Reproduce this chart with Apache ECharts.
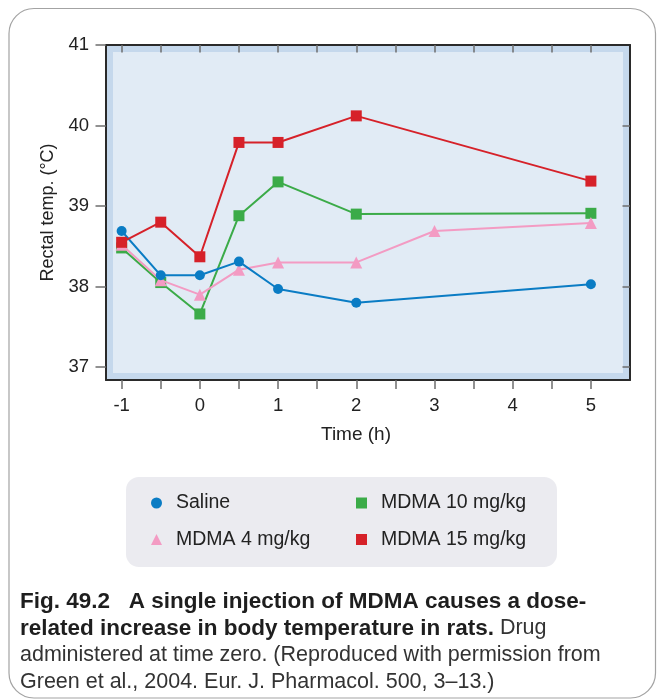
<!DOCTYPE html>
<html><head><meta charset="utf-8">
<script src="https://cdn.jsdelivr.net/npm/echarts@6/dist/echarts.min.js"></script>
<style>html,body{margin:0;padding:0;background:#fff}#c{width:657px;height:700px}</style>
</head><body><div id="c"></div>
<script>
// ---- data ----
const timesMain = [-1, -0.5, 0, 0.5, 1, 2, 5];
const times4mg = [-1, -0.5, 0, 0.5, 1, 2, 3, 5];
const saline = [38.69, 38.14, 38.14, 38.31, 37.97, 37.80, 38.03];
const mdma4 = [38.52, 38.08, 37.90, 38.21, 38.30, 38.30, 38.69, 38.79];
const mdma10 = [38.48, 38.05, 37.66, 38.88, 39.30, 38.90, 38.91];
const mdma15 = [38.55, 38.80, 38.37, 39.79, 39.79, 40.12, 39.31];
const xTickValues = [-1, -0.5, 0, 0.5, 1, 1.5, 2, 2.5, 3, 3.5, 4, 4.5, 5];
const xLabelValues = [-1, 0, 1, 2, 3, 4, 5];
const yTickValues = [37, 38, 39, 40, 41];
const yRightTickValues = [37, 38, 39, 40];
const seriesNames = ['Saline', 'MDMA 4 mg/kg', 'MDMA 10 mg/kg', 'MDMA 15 mg/kg'];

const FONT = '"Liberation Sans", Arial, Helvetica, sans-serif';
const pair = (xs, ys) => xs.map((x, i) => [x, ys[i]]);

const chart = echarts.init(document.getElementById('c'), null, {renderer: 'canvas'});
const xMin = -1.2, xMax = 5.5, yMin = 36.84, yMax = 41;
const tickStyle = {color: '#6e6e6e', width: 1.5};
const axisLineStyle = {color: '#2a2a2a', width: 2};

function line(name, xs, ys, color, symbol, size, z) {
  return {
    name, type: 'line', data: pair(xs, ys), symbol, symbolSize: size,
    z: z, animation: false,
    lineStyle: {color, width: 2},
    itemStyle: {color, borderWidth: 0}
  };
}

const legendText = {fontFamily: FONT, fontSize: 19.5, lineHeight: 20, color: '#222', padding: [0, 0, 0, 9]};

chart.setOption({
  backgroundColor: '#ffffff',
  animation: false,
  title: {
    left: 20, top: 588, padding: 0,
    text: '{b|Fig. 49.2}{b|   A single injection of MDMA causes a dose-}\n' +
          '{b|related increase in body temperature in rats.}{n| Drug}\n' +
          '{n|administered at time zero. (Reproduced with permission from}\n' +
          '{n|Green et al., 2004. Eur. J. Pharmacol. 500, 3\u201313.)}',
    textStyle: {
      fontWeight: 'normal',
      rich: {
        b: {fontFamily: FONT, fontWeight: 'bold', fontSize: 22.5, lineHeight: 27, color: '#1e1e1e'},
        n: {fontFamily: FONT, fontWeight: 'normal', fontSize: 21.5, lineHeight: 27, color: '#333333'}
      }
    }
  },
  graphic: [
    {type: 'rect', z: 0, silent: true,
     shape: {x: 9, y: 8.5, width: 646.5, height: 689.5, r: 25},
     style: {fill: 'none', stroke: '#a3a3a3', lineWidth: 1.2}},
    {type: 'rect', z: 0, silent: true,
     shape: {x: 126, y: 477, width: 431, height: 90, r: 13},
     style: {fill: '#ebebf0'}},
    {type: 'rect', z: 1, silent: true,
     shape: {x: 113, y: 52, width: 510, height: 321},
     style: {fill: '#e1ebf5'}}
  ],
  legend: [
    {orient: 'vertical', left: 146, top: 488, itemWidth: 11, itemHeight: 11, itemGap: 16.5,
     selectedMode: false,
     data: [{name: seriesNames[0], icon: 'circle'}, {name: seriesNames[1], icon: 'triangle'}],
     textStyle: legendText},
    {orient: 'vertical', left: 351, top: 488, itemWidth: 11, itemHeight: 11, itemGap: 16.5,
     selectedMode: false,
     data: [{name: seriesNames[2], icon: 'rect'}, {name: seriesNames[3], icon: 'rect'}],
     textStyle: legendText}
  ],
  grid: {left: 106, top: 45, right: 27, bottom: 320, show: true,
         backgroundColor: '#c5d8ec', borderWidth: 0, containLabel: false},
  xAxis: [
    {type: 'value', position: 'bottom', min: xMin, max: xMax, z: 5,
     name: 'Time (h)', nameLocation: 'middle', nameGap: 45,
     nameTextStyle: {fontFamily: FONT, fontSize: 19, color: '#222', padding: [0, 24, 0, 0]},
     axisLine: {show: true, onZero: false, lineStyle: axisLineStyle},
     axisTick: {show: true, inside: false, length: 9, lineStyle: tickStyle, customValues: xTickValues},
     axisLabel: {show: true, margin: 16, fontFamily: FONT, fontSize: 18.5, color: '#222',
                 customValues: xLabelValues},
     splitLine: {show: false}},
    {type: 'value', position: 'top', min: xMin, max: xMax, z: 5,
     axisLine: {show: true, onZero: false, lineStyle: axisLineStyle},
     axisTick: {show: true, inside: true, length: 7.5, lineStyle: tickStyle, customValues: xTickValues},
     axisLabel: {show: false},
     splitLine: {show: false}}
  ],
  yAxis: [
    {type: 'value', position: 'left', min: yMin, max: yMax, z: 5,
     name: 'Rectal temp. (\u00B0C)', nameLocation: 'middle', nameGap: 46,
     nameTextStyle: {fontFamily: FONT, fontSize: 18, color: '#222'},
     axisLine: {show: true, onZero: false, lineStyle: axisLineStyle},
     axisTick: {show: true, inside: false, length: 10.5, lineStyle: tickStyle, customValues: yTickValues},
     axisLabel: {show: true, margin: 17, fontFamily: FONT, fontSize: 18.5, color: '#222',
                 customValues: yTickValues},
     splitLine: {show: false}},
    {type: 'value', position: 'right', min: yMin, max: yMax, z: 5,
     axisLine: {show: true, onZero: false, lineStyle: axisLineStyle},
     axisTick: {show: true, inside: true, length: 7.5, lineStyle: tickStyle, customValues: yRightTickValues},
     axisLabel: {show: false},
     splitLine: {show: false}}
  ],
  series: [
    line(seriesNames[2], timesMain, mdma10, '#3bab48', 'rect', 11, 2),
    line(seriesNames[1], times4mg, mdma4, '#f39bc3', 'triangle', 12, 3),
    line(seriesNames[0], timesMain, saline, '#0a7cc4', 'circle', 10, 4),
    line(seriesNames[3], timesMain, mdma15, '#d62129', 'rect', 11, 5)
  ]
});
</script>
</body></html>
